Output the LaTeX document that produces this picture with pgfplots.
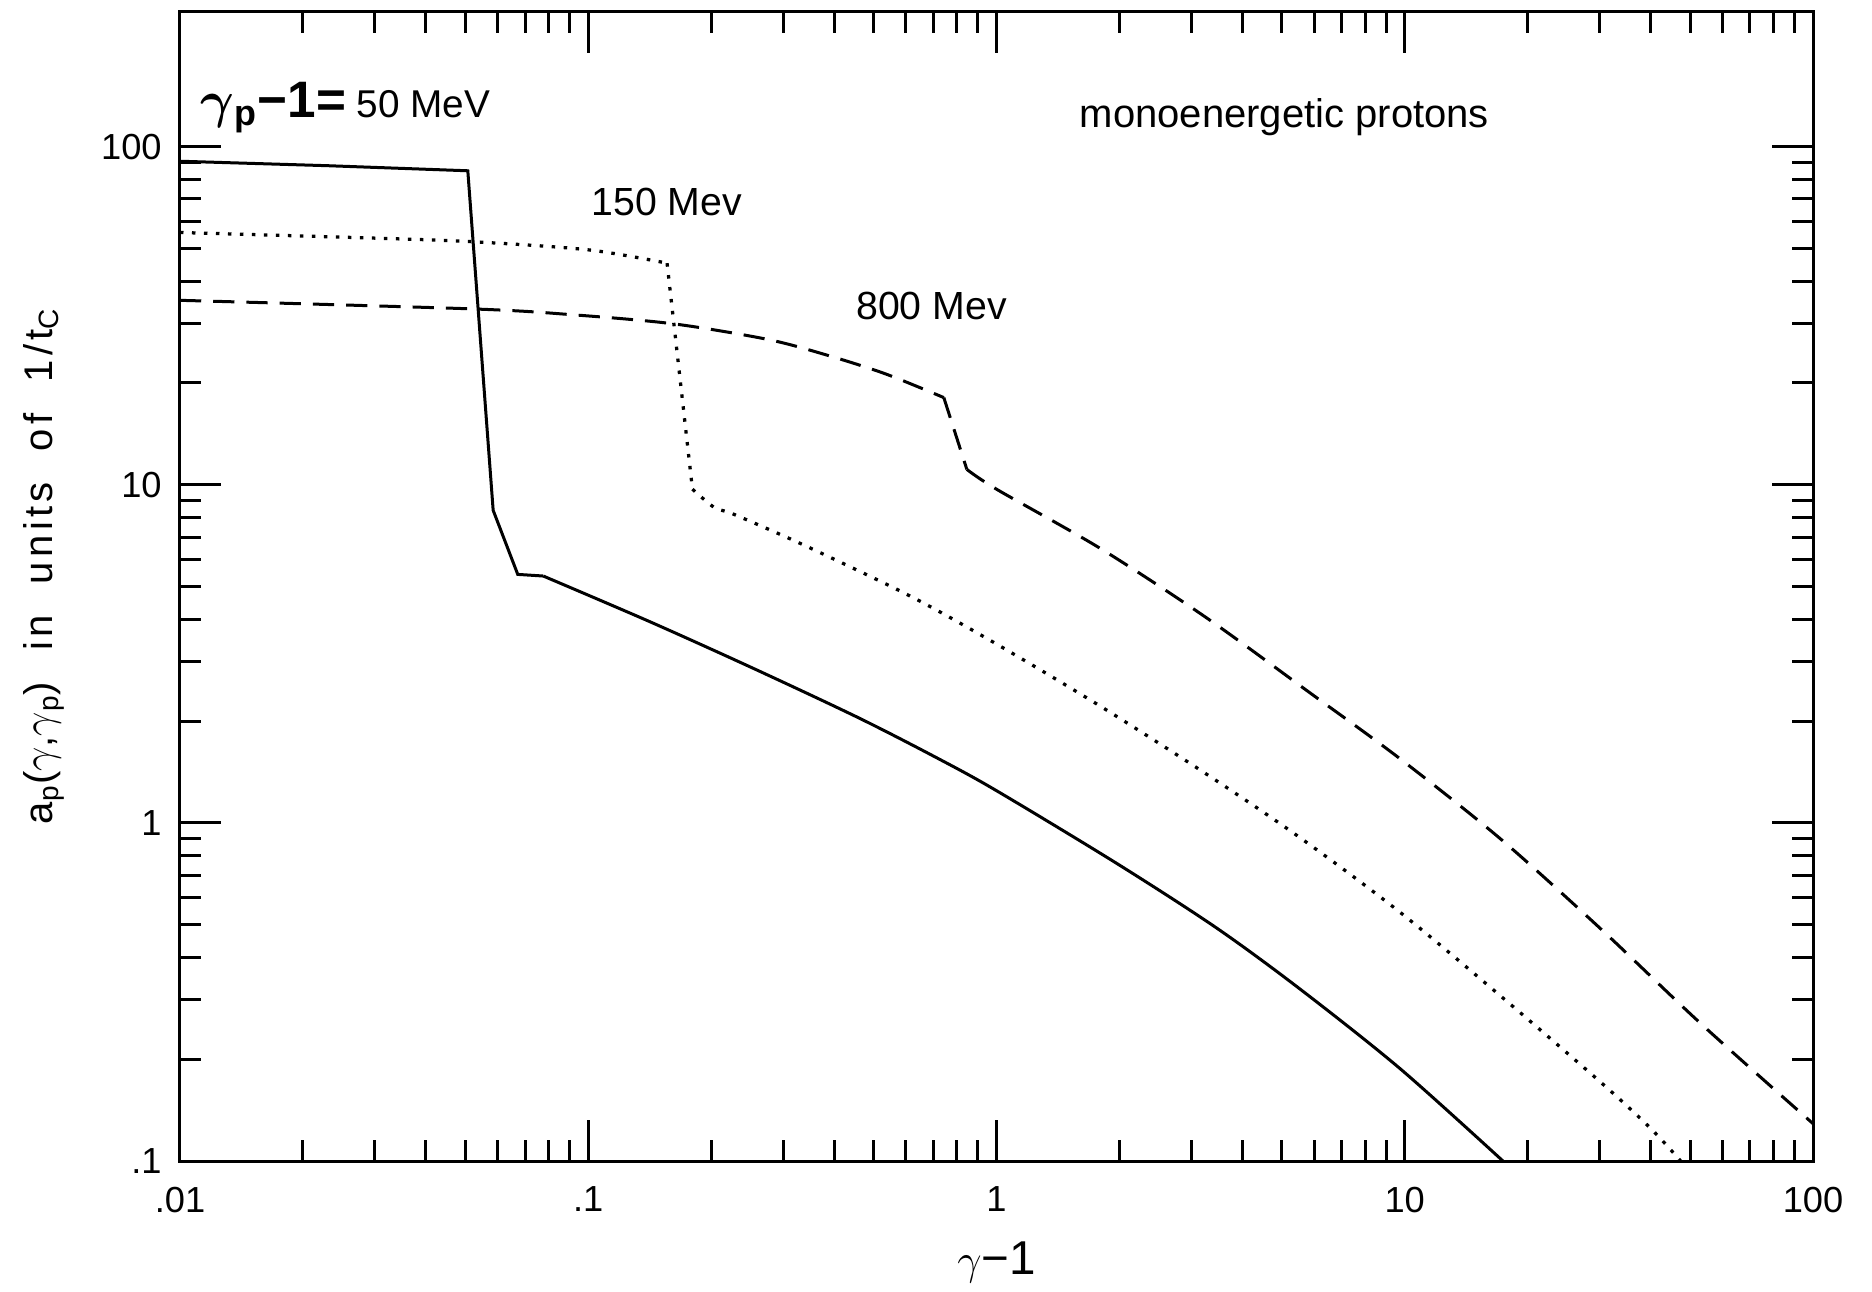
\documentclass[border=0pt]{standalone}
\usepackage{pgfplots}
\pgfplotsset{compat=1.18}
\usepackage{bm}
\usepackage{fontspec}
\setmainfont{Liberation Sans}
\newfontfamily\ylabfont{Liberation Sans}[LetterSpace=11]
\usetikzlibrary{calc}
\begin{document}
\begin{tikzpicture}
\begin{axis}[
  scale only axis,
  width=653.2pt, height=459.6pt,
  xmode=log, ymode=log,
  xmin=0.01, xmax=100, ymin=0.1, ymax=250,
  axis line style={line width=1.2pt},
  every tick/.style={black, line width=1.2pt},
  tick align=inside,
  major tick length=16.4pt,
  minor tick length=8.4pt,
  xtick={0.01,0.1,1,10,100},
  xticklabels={\textrm{.01},\textrm{.1},\textrm{1},\textrm{10},\textrm{100}},
  ytick={0.1,1,10,100},
  yticklabels={\textrm{.1},\textrm{1},\textrm{10},\textrm{100}},
  tick label style={font=\fontsize{14.5}{17}\selectfont},
  xticklabel style={yshift=-6.8pt},
  yticklabel style={xshift=-3.8pt},
  every axis x label/.style={at={(axis description cs:0.5,-0.088)}, anchor=center},
  every axis y label/.style={at={(axis description cs:-0.0833,0.518)}, rotate=90, anchor=center},
  xlabel={\fontsize{19}{22}\selectfont $\gamma$−1},
  ylabel={\ylabfont\fontsize{16}{18}\selectfont a\textsubscript{p}({\fontsize{19}{20}\selectfont$\gamma$},{\fontsize{19}{20}\selectfont$\gamma$}\textsubscript{p})\ \ in\ \ units\ \ of\ \ 1/t\textsubscript{C}},
  clip=true,
]
% 50 MeV (solid)
\addplot[black, line width=1.2pt] coordinates {
(0.01,90.5) (0.0229,87.8) (0.0507,84.8) (0.0585,8.4) (0.0672,5.43) (0.0776,5.37)
};
\addplot[black, line width=1.2pt, smooth] coordinates {
(0.0776,5.37) (0.1419,3.93) (0.2559,2.85) (0.4613,2.04) (0.7194,1.55) (1.0,1.245)
(1.97,0.759) (3.45,0.49) (5.52,0.3236) (9.72,0.188) (17.4,0.1)
};
% 150 MeV (dotted)
\addplot[black, line width=1.3pt, dash pattern=on 1.4pt off 3.4pt, smooth] coordinates {
(0.01,55.7) (0.03,53.6) (0.0523,52.3) (0.1,49.5) (0.156,45.2)
};
\addplot[black, line width=1.3pt, dash pattern=on 1.4pt off 3.4pt] coordinates {
(0.156,45.2) (0.180,9.7)
};
\addplot[black, line width=1.3pt, dash pattern=on 1.4pt off 3.4pt, smooth] coordinates {
(0.180,9.7) (0.204,8.55) (0.2276,8.17) (0.344,6.56) (0.62,4.66) (1.0,3.38) (1.80,2.21)
(3.25,1.40) (5.52,0.907) (9.72,0.545) (17.1,0.309) (30.2,0.171) (40,0.125) (47.4,0.1)
};
% 800 MeV (dashed)
\addplot[black, line width=1.2pt, dash pattern=on 8.5pt off 4.8pt, smooth] coordinates {
(0.01,35.1) (0.0523,33.1) (0.092,31.8) (0.162,29.9) (0.275,26.9) (0.383,24.2)
(0.533,21.3) (0.743,18.1)
};
\addplot[black, line width=1.2pt, dash pattern=on 8.5pt off 4.8pt] coordinates {
(0.743,18.1) (0.846,11.1)
};
\addplot[black, line width=1.2pt, dash pattern=on 8.5pt off 4.8pt, smooth] coordinates {
(0.846,11.1) (1.0,9.7) (1.80,6.47) (3.25,4.06) (5.87,2.42) (9.72,1.55)
(17.1,0.90) (30.2,0.486) (53.1,0.255) (100,0.129)
};
\node[anchor=base west, inner sep=0pt, font=\fontsize{15.5}{18}\selectfont] at (axis cs:0.0112,121.8)
  {{\fontsize{20.5}{22}\selectfont\bfseries $\bm{\gamma}$\textsubscript{p}−1=} 50 MeV};
\node[anchor=base west, inner sep=0pt, font=\fontsize{15.7}{18}\selectfont] at (axis cs:0.1016,62.6) {150 Mev};
\node[anchor=base west, inner sep=0pt, font=\fontsize{15.7}{18}\selectfont] at (axis cs:0.452,30.8) {800 Mev};
\node[anchor=base west, inner sep=0pt, font=\fontsize{16}{18}\selectfont] at (axis cs:1.596,114) {monoenergetic protons};
\coordinate (sw) at (rel axis cs:0,0);
\coordinate (ne) at (rel axis cs:1,1);
\end{axis}
\pgfresetboundingbox
\path ($(sw)+(-72pt,-52pt)$) rectangle ($(ne)+(23.6pt,4.8pt)$);
\end{tikzpicture}
\end{document}
